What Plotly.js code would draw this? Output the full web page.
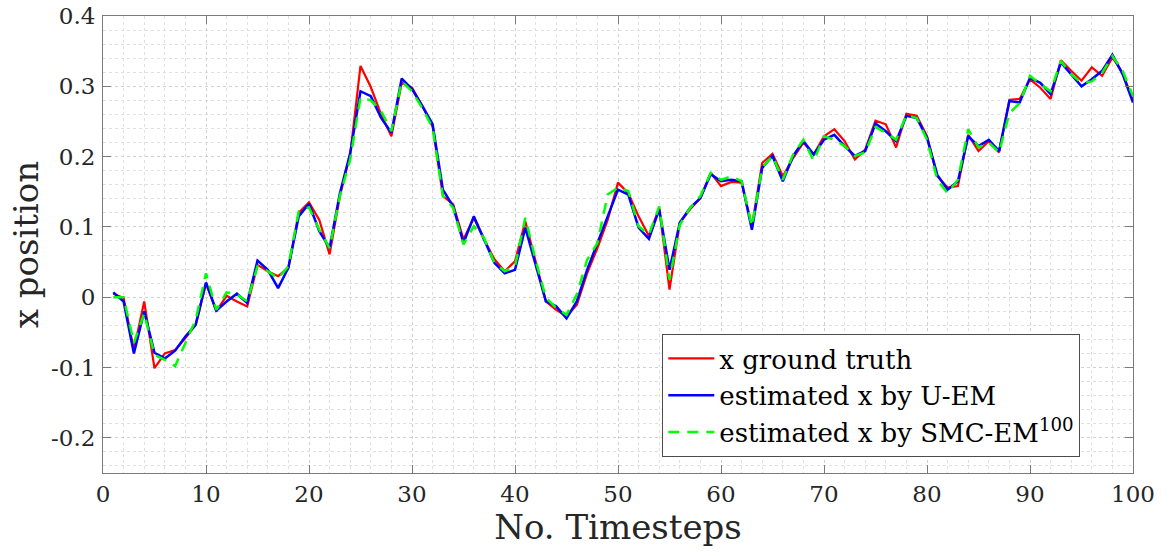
<!DOCTYPE html>
<html>
<head>
<meta charset="utf-8">
<script src="https://cdn.plot.ly/plotly-3.0.1.min.js"></script>
<style>
  html, body { margin: 0; padding: 0; background: #ffffff; }
  #chart { width: 1169px; height: 556px; }
</style>
</head>
<body>
<div id="chart"></div>
<script>
// Timestep index
const timesteps = Array.from({length: 100}, (_, i) => i + 1);

// Ground-truth x position
const groundTruth = [
  0.005, -0.001, -0.075, -0.006, -0.101, -0.080, -0.075, -0.058, -0.039, 0.020,
  -0.020, 0.002, -0.006, -0.013, 0.046, 0.037, 0.030, 0.042, 0.120, 0.135,
  0.110, 0.061, 0.144, 0.203, 0.329, 0.299, 0.260, 0.229, 0.305, 0.298,
  0.272, 0.243, 0.144, 0.132, 0.082, 0.113, 0.082, 0.054, 0.037, 0.051,
  0.108, 0.052, -0.006, -0.018, -0.027, -0.011, 0.034, 0.070, 0.110, 0.163,
  0.148, 0.115, 0.087, 0.127, 0.011, 0.106, 0.125, 0.141, 0.177, 0.158,
  0.164, 0.163, 0.101, 0.191, 0.204, 0.172, 0.198, 0.220, 0.203, 0.229,
  0.239, 0.222, 0.196, 0.210, 0.251, 0.246, 0.213, 0.261, 0.258, 0.229,
  0.172, 0.156, 0.158, 0.231, 0.208, 0.222, 0.206, 0.281, 0.282, 0.310,
  0.298, 0.282, 0.337, 0.322, 0.308, 0.327, 0.315, 0.341, 0.319, 0.279
];

// U-EM estimate
const uemEstimate = [
  0.007, -0.006, -0.080, -0.020, -0.079, -0.087, -0.076, -0.056, -0.039, 0.021,
  -0.019, -0.006, 0.005, -0.008, 0.052, 0.039, 0.013, 0.042, 0.115, 0.133,
  0.094, 0.070, 0.148, 0.205, 0.293, 0.286, 0.255, 0.234, 0.311, 0.296,
  0.272, 0.246, 0.153, 0.129, 0.077, 0.115, 0.082, 0.049, 0.034, 0.039,
  0.099, 0.048, -0.006, -0.013, -0.030, -0.006, 0.039, 0.077, 0.115, 0.153,
  0.146, 0.099, 0.083, 0.125, 0.039, 0.106, 0.127, 0.141, 0.175, 0.165,
  0.167, 0.165, 0.096, 0.184, 0.201, 0.165, 0.201, 0.222, 0.203, 0.224,
  0.231, 0.215, 0.201, 0.208, 0.247, 0.236, 0.222, 0.258, 0.255, 0.227,
  0.174, 0.153, 0.165, 0.229, 0.215, 0.224, 0.208, 0.279, 0.277, 0.312,
  0.305, 0.289, 0.334, 0.317, 0.300, 0.310, 0.322, 0.345, 0.317, 0.277
];

// SMC-EM (100 particles) estimate
const smcEstimate = [
  0.000, 0.000, -0.065, -0.023, -0.082, -0.089, -0.098, -0.065, -0.032, 0.034,
  -0.018, 0.007, 0.004, -0.006, 0.044, 0.037, 0.027, 0.044, 0.122, 0.128,
  0.096, 0.070, 0.144, 0.196, 0.284, 0.280, 0.265, 0.236, 0.307, 0.293,
  0.269, 0.241, 0.144, 0.127, 0.075, 0.101, 0.084, 0.049, 0.037, 0.044,
  0.113, 0.053, -0.001, -0.015, -0.025, 0.004, 0.053, 0.077, 0.146, 0.156,
  0.151, 0.101, 0.089, 0.129, 0.025, 0.103, 0.127, 0.144, 0.177, 0.167,
  0.172, 0.165, 0.101, 0.184, 0.201, 0.167, 0.203, 0.224, 0.194, 0.229,
  0.224, 0.215, 0.201, 0.206, 0.242, 0.234, 0.224, 0.259, 0.255, 0.224,
  0.167, 0.148, 0.167, 0.239, 0.213, 0.220, 0.206, 0.262, 0.276, 0.315,
  0.303, 0.293, 0.336, 0.317, 0.305, 0.307, 0.319, 0.343, 0.322, 0.286
];

// Axis tick values and labels
const xTickVals = [0, 10, 20, 30, 40, 50, 60, 70, 80, 90, 100];
const yTickVals = [-0.2, -0.1, 0, 0.1, 0.2, 0.3, 0.4];
const yTickText = ['-0.2', '-0.1', '0', '0.1', '0.2', '0.3', '0.4'];

const serif = '"DejaVu Serif", "Liberation Serif", serif';
const textColor = '#262626';

const traces = [
  {
    x: timesteps, y: groundTruth, type: 'scatter', mode: 'lines',
    name: 'x ground truth',
    line: {color: '#ff0000', width: 2.2}
  },
  {
    x: timesteps, y: uemEstimate, type: 'scatter', mode: 'lines',
    name: 'estimated x by U-EM',
    line: {color: '#0000ff', width: 2.5}
  },
  {
    x: timesteps, y: smcEstimate, type: 'scatter', mode: 'lines',
    name: 'estimated x by SMC-EM<sup>100</sup>',
    line: {color: '#00ff00', width: 2.5, dash: '11px,8px'}
  }
];

const axisCommon = {
  showline: true,
  linecolor: '#7a7a7a',
  linewidth: 1,
  mirror: 'ticks',
  ticks: 'inside',
  ticklen: 8,
  tickcolor: '#7a7a7a',
  tickwidth: 1,
  showgrid: true,
  gridcolor: '#d0d0d0',
  griddash: 'dot',
  gridwidth: 1,
  zeroline: false,
  tickfont: {family: serif, size: 23, color: textColor},
  automargin: false
};

const layout = {
  width: 1169,
  height: 556,
  margin: {l: 103, r: 36, t: 16, b: 83},
  paper_bgcolor: '#ffffff',
  plot_bgcolor: '#ffffff',
  showlegend: true,
  font: {family: serif, color: textColor},
  xaxis: Object.assign({}, axisCommon, {
    range: [0, 100],
    tickmode: 'array',
    tickvals: xTickVals,
    minor: {dtick: 2, showgrid: true, gridcolor: '#e0e0e0', griddash: 'dot', gridwidth: 1},
    title: {text: 'No. Timesteps', font: {family: serif, size: 34, color: textColor}, standoff: 6}
  }),
  yaxis: Object.assign({}, axisCommon, {
    range: [-0.25, 0.4],
    tickmode: 'array',
    tickvals: yTickVals,
    ticktext: yTickText,
    ticklabelstandoff: 2,
    minor: {dtick: 0.02, tick0: 0, showgrid: true, gridcolor: '#e0e0e0', griddash: 'dot', gridwidth: 1},
    title: {text: 'x position', font: {family: serif, size: 34, color: textColor}, standoff: 2}
  }),
  legend: {
    x: 0.543, y: 0.304,
    xanchor: 'left', yanchor: 'top',
    bgcolor: '#ffffff',
    bordercolor: '#4d4d4d',
    borderwidth: 1,
    itemwidth: 46,
    tracegroupgap: 0,
    font: {family: serif, size: 26, color: '#000000'}
  }
};

Plotly.newPlot('chart', traces, layout, {displayModeBar: false, staticPlot: true});
</script>
</body>
</html>
